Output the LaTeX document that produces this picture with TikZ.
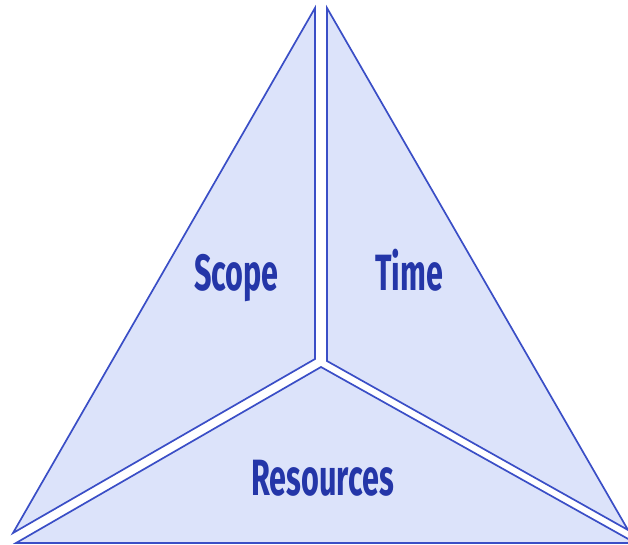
\documentclass[tikz,border=0pt]{standalone}
\usepackage{fontspec}
\setmainfont{Fira Sans}
\definecolor{piecefill}{HTML}{DCE3FA}
\definecolor{pieceline}{HTML}{3A4EC6}
\definecolor{piecetext}{HTML}{2436A8}
\tikzset{
  piece/.style={fill=piecefill,draw=pieceline,line width=1.7pt,line join=miter},
  label/.style={text=piecetext,font=\fontsize{51}{51}\selectfont\bfseries,anchor=base,inner sep=0pt}
}
\newcommand{\narrow}[1]{\scalebox{0.6}[1]{#1}}
\begin{document}
\begin{tikzpicture}[x=1pt,y=-1pt]
    \useasboundingbox (0,0) rectangle (628,545);
    % three pieces of the triangle
    \draw[piece] (315,8) -- (315,359) -- (13,533) -- cycle;
    \draw[piece] (327,8) -- (327,361) -- (628,530) -- cycle;
    \draw[piece] (321,367) -- (630,540) -- (630,543) -- (16,543) -- cycle;
    \node[label] (scope) at (236.5,290) {\narrow{Scope}};
    \node[label] (time) at (409,290) {\narrow{Time}};
    \node[label] (resources) at (322.5,495) {\narrow{Resources}};
  \end{tikzpicture}
\end{document}
